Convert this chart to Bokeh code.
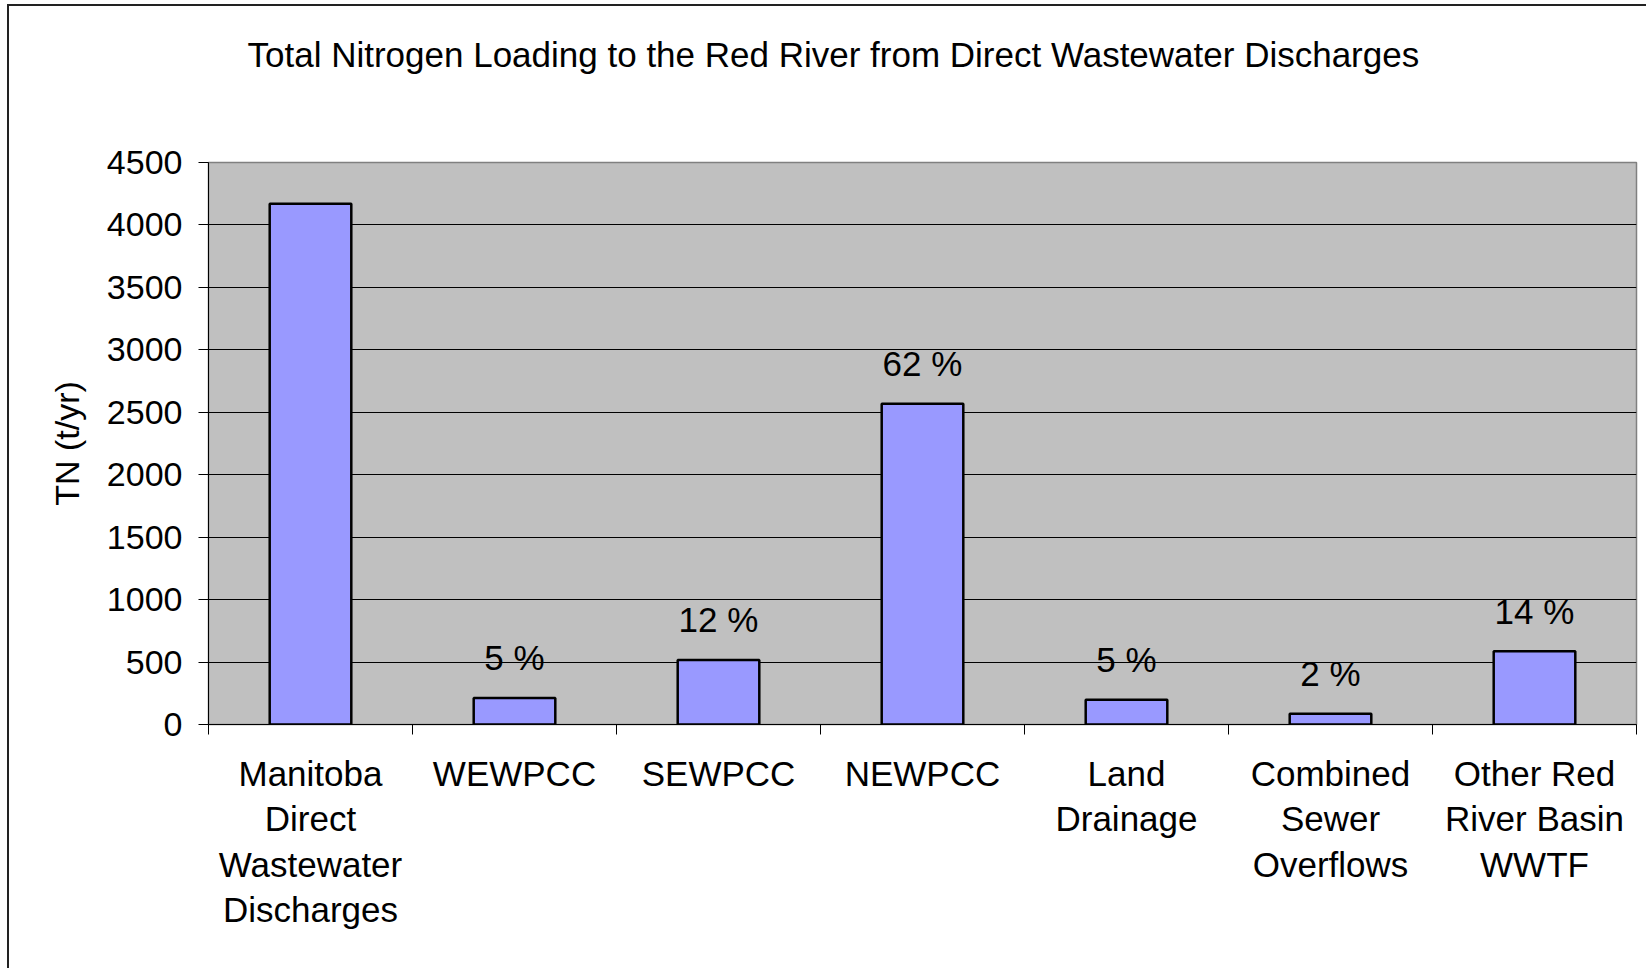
from bokeh.plotting import figure
from bokeh.models import ColumnDataSource, FixedTicker, Range1d, Title
from bokeh.embed import file_html
from bokeh.resources import INLINE
from bokeh.core.properties import value

# ---- data ----
categories = [
    "Manitoba\nDirect\nWastewater\nDischarges",
    "WEWPCC",
    "SEWPCC",
    "NEWPCC",
    "Land\nDrainage",
    "Combined\nSewer\nOverflows",
    "Other Red\nRiver Basin\nWWTF",
]
tn_loading = [4170, 213, 517, 2568, 198, 87, 587]
share_pct = [None, 5, 12, 62, 5, 2, 14]
y_ticks = [0, 500, 1000, 1500, 2000, 2500, 3000, 3500, 4000, 4500]
title_text = "Total Nitrogen Loading to the Red River from Direct Wastewater Discharges"
y_label = "TN (t/yr)"

FONT = "Liberation Sans"
n = len(categories)
xs = [2 * i + 1 for i in range(n)]
bounds = [2 * i for i in range(n + 1)]

p = figure(
    width=1639, height=964,
    x_range=Range1d(0, 2 * n), y_range=Range1d(0, y_ticks[-1]),
    output_backend="svg", toolbar_location=None,
    min_border_left=199, min_border_right=12, min_border_top=156, min_border_bottom=246,
)
p.styles = {"border-left": "2px solid #222", "border-top": "2px solid #222",
            "margin-left": "7px", "margin-top": "4px"}
p.background_fill_color = "#C0C0C0"
p.border_fill_color = "white"
p.outline_line_color = "#808080"
p.outline_line_width = 1.5

# spacer between the title and the plot area
spacer = Title(text=" ", text_font_size="10px", standoff=76)
p.add_layout(spacer, "above")

# chart title (outermost)
p.title.text = title_text
p.title.text_font = FONT
p.title.text_font_size = "35px"
p.title.text_font_style = "normal"
p.title.text_color = "black"
p.title.align = "left"
p.title.offset = 39
p.title.standoff = 0

# bars
src = ColumnDataSource(dict(x=xs, top=tn_loading))
p.vbar(x="x", top="top", width=0.8, source=src, fill_color="#9999FF",
       line_color="black", line_width=2.5)

# percent labels
lx, ly, lt = [], [], []
for x, v, s in zip(xs, tn_loading, share_pct):
    if s is not None:
        lx.append(x); ly.append(v); lt.append(f"{s} %")
lsrc = ColumnDataSource(dict(x=lx, y=ly, t=lt))
p.text(x="x", y="y", text="t", source=lsrc, text_font=value(FONT),
       text_font_size="35px", text_align="center", text_baseline="middle",
       y_offset=-40, text_color="black")

# grid
p.xgrid.visible = False
p.ygrid.ticker = FixedTicker(ticks=y_ticks)
p.ygrid.grid_line_color = "black"
p.ygrid.grid_line_width = 1

# y axis
p.yaxis.ticker = FixedTicker(ticks=y_ticks)
p.yaxis.major_tick_out = 10
p.yaxis.major_tick_in = 0
p.yaxis.minor_tick_line_color = None
p.yaxis.axis_line_color = "black"
p.yaxis.major_tick_line_color = "black"
p.yaxis.major_label_text_font = FONT
p.yaxis.major_label_text_font_size = "34px"
p.yaxis.major_label_text_color = "black"
p.yaxis.major_label_standoff = 16
p.yaxis.axis_label = y_label
p.yaxis.axis_label_text_font = FONT
p.yaxis.axis_label_text_font_size = "34px"
p.yaxis.axis_label_text_font_style = "normal"
p.yaxis.axis_label_text_color = "black"
p.yaxis.axis_label_standoff = 18

# x axis: labels at bar centres, tick marks at category boundaries
p.xaxis.ticker = FixedTicker(ticks=xs, minor_ticks=bounds)
p.xaxis.major_label_overrides = {x: c for x, c in zip(xs, categories)}
p.xaxis.major_tick_out = 0
p.xaxis.major_tick_in = 0
p.xaxis.minor_tick_out = 10
p.xaxis.minor_tick_in = 0
p.xaxis.minor_tick_line_color = "black"
p.xaxis.axis_line_color = "black"
p.xaxis.major_label_text_font = FONT
p.xaxis.major_label_text_font_size = "35px"
p.xaxis.major_label_text_color = "black"
p.xaxis.major_label_text_line_height = 1.17
p.xaxis.major_label_standoff = 19

open("out.html", "w").write(file_html(p, INLINE))
